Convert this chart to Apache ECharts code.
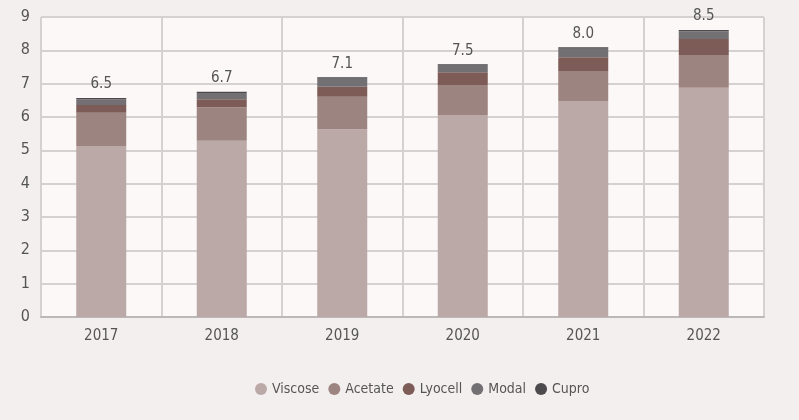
<!DOCTYPE html>
<html><head><meta charset="utf-8">
<script src="https://cdn.jsdelivr.net/npm/echarts@6/dist/echarts.min.js"></script>
<style>html,body{margin:0;padding:0;background:#f3efef}#c{width:799px;height:420px}</style>
</head><body><div id="c"></div>
<script>
const years = ['2017','2018','2019','2020','2021','2022'];
const viscose = [5.13, 5.29, 5.63, 6.06, 6.48, 6.88];
const acetate = [1.00, 1.00, 0.98, 0.90, 0.90, 0.98];
const lyocell = [0.23, 0.24, 0.30, 0.38, 0.41, 0.48];
const modal   = [0.17, 0.19, 0.24, 0.20, 0.26, 0.23];
const cupro   = [0.04, 0.04, 0.04, 0.04, 0.04, 0.04];
const totals  = ['6.5', '6.7', '7.1', '7.5', '8.0', '8.5'];
const names = ['Viscose','Acetate','Lyocell','Modal','Cupro'];
const colors = ['#bba9a7','#9c8580','#7d5c57','#737073','#4d4a4e'];
const FONT = '"Liberation Sans Narrow", "DejaVu Sans Condensed", "Roboto", sans-serif';

const chart = echarts.init(document.getElementById('c'));
const seriesData = [viscose, acetate, lyocell, modal, cupro];
const series = seriesData.map((d, i) => ({
  name: names[i], type: 'bar', stack: 'total', data: d, barWidth: 50,
  itemStyle: { color: colors[i] },
  label: i === 4 ? {
    show: true, position: 'top', distance: 6,
    formatter: p => totals[p.dataIndex],
    fontFamily: FONT, fontSize: 15, color: '#555'
  } : { show: false }
}));
chart.setOption({
  backgroundColor: '#f3efef',
  animation: false,
  color: colors,
  grid: { left: 41, right: 35, top: 17, bottom: 103, show: true, backgroundColor: '#fcf8f8', borderColor: '#cfcaca', borderWidth: 1 },
  xAxis: {
    type: 'category', data: years,
    axisLine: { lineStyle: { color: '#bdb8b8', width: 2 } },
    axisTick: { show: false },
    splitLine: { show: true, lineStyle: { color: '#d6d1d1', width: 2 } },
    axisLabel: { fontFamily: FONT, fontSize: 15, color: '#555', margin: 12 }
  },
  yAxis: {
    type: 'value', min: 0, max: 9, interval: 1,
    axisLine: { show: false }, axisTick: { show: false },
    splitLine: { lineStyle: { color: '#d6d1d1', width: 2 } },
    axisLabel: { fontFamily: FONT, fontSize: 16, color: '#555', margin: 11 }
  },
  legend: {
    left: 250, top: 377, icon: 'circle', itemWidth: 12, itemHeight: 12, itemGap: 9,
    textStyle: { fontFamily: FONT, fontSize: 14, color: '#555' },
    data: names
  },
  series: series
});
</script></body></html>
